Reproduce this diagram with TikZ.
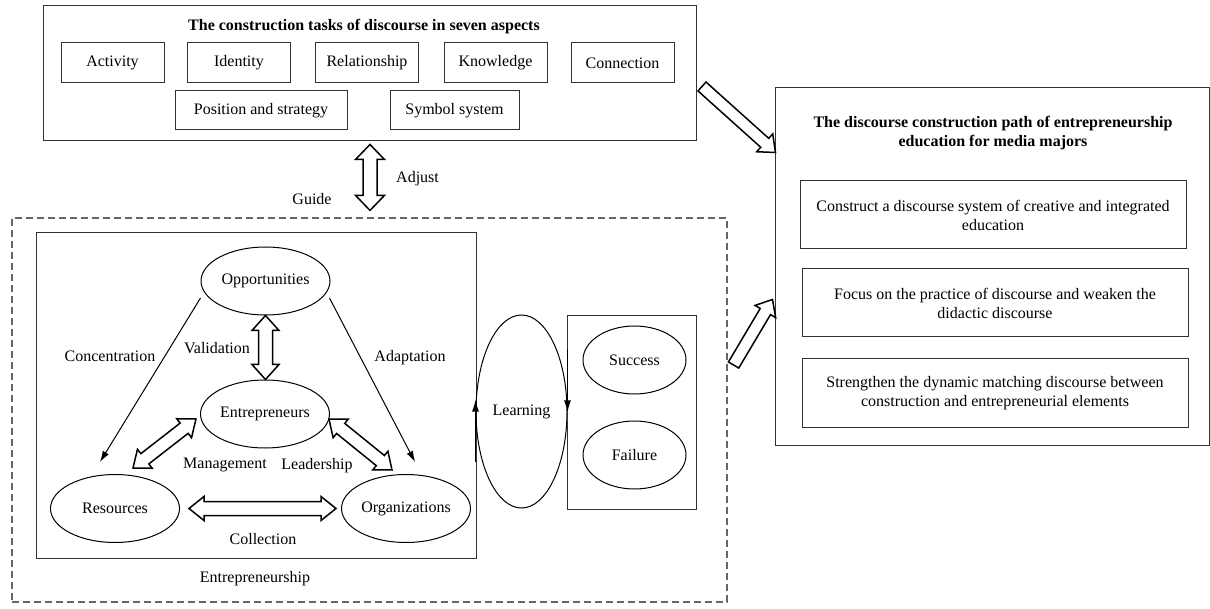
\documentclass[tikz,border=0pt]{standalone}
\usepackage{fontspec}
\setmainfont{Liberation Serif}
\usetikzlibrary{shapes.geometric,calc,arrows.meta}

\newcommand{\fatdouble}[5]{%
  \path ($(#1)!#5!(#2)$) coordinate (fa) ($(#2)!#5!(#1)$) coordinate (fb);
  \draw[fat] (#1) -- ($(fa)!#4!90:(#2)$) -- ($(fa)!#3!90:(#2)$) -- ($(fb)!#3!-90:(#1)$) -- ($(fb)!#4!-90:(#1)$) -- (#2) -- ($(fb)!#4!90:(#1)$) -- ($(fb)!#3!90:(#1)$) -- ($(fa)!#3!-90:(#2)$) -- ($(fa)!#4!-90:(#2)$) -- cycle;}
\newcommand{\fatsingle}[5]{%
  \path ($(#2)!#5!(#1)$) coordinate (fb);
  \draw[fat] ($(#1)!#3!90:(#2)$) -- ($(fb)!#3!-90:(#1)$) -- ($(fb)!#4!-90:(#1)$) -- (#2) -- ($(fb)!#4!90:(#1)$) -- ($(fb)!#3!90:(#1)$) -- ($(#1)!#3!-90:(#2)$) -- cycle;}

\tikzset{
  box/.style={draw=black!80, line width=1pt, inner sep=0pt, align=center},
  oval/.style={ellipse, draw=black, line width=1pt, inner sep=0pt, minimum width=129pt, minimum height=68pt},
  lbl/.style={inner sep=0pt},
  dashbox/.style={draw=black!60, line width=1.2pt, dash pattern=on 7pt off 4pt, inner sep=0pt},
  fat/.style={draw=black, line width=1.5pt, fill=white, line join=miter},
  thinarrow/.style={line width=1pt, -{Latex[length=11pt,width=7pt]}},
  cycarrow/.style={line width=1.5pt, -{Latex[length=12pt,width=7pt]}},
}

\begin{document}
\begin{tikzpicture}[x=1pt,y=-1pt,font=\fontsize{16}{19}\selectfont]
\useasboundingbox (0,0) rectangle (1210,609);

% top box
\node[box, minimum width=653pt, minimum height=134.5pt] (topbox) at (369.5,73.25) {};
\node[lbl, font=\fontsize{16}{19}\selectfont\bfseries] (ttitle) at (364,27) {The construction tasks of discourse in seven aspects};
\node[box, minimum width=103pt, minimum height=40pt] (act) at (112.5,63) {Activity};
\node[box, minimum width=103pt, minimum height=40pt] (ide) at (239,63) {Identity};
\node[box, minimum width=103pt, minimum height=40pt] (rel) at (367,63) {Relationship};
\node[box, minimum width=103pt, minimum height=40pt] (kno) at (495.5,63) {Knowledge};
\node[box, minimum width=103pt, minimum height=40pt] (con) at (622.5,63) {Connection};
\node[box, minimum width=172pt, minimum height=39pt] (pos) at (261,110.5) {Position and strategy};
\node[box, minimum width=129pt, minimum height=39pt] (sym) at (454.5,110.5) {Symbol system};

% dashed box and inner box
\node[dashbox, minimum width=715pt, minimum height=384pt] (dash) at (369.5,410) {};
\node[box, minimum width=440pt, minimum height=325pt] (inner) at (256,395.5) {};
\node[lbl] (entship) at (255,579) {Entrepreneurship};

% ellipses
\node[oval] (opp) at (265.5,281) {Opportunities};
\node[oval] (ent) at (265,414) {Entrepreneurs};
\node[oval] (res) at (115,508.5) {Resources};
\node[oval] (org) at (406,508.5) {Organizations};
\node[oval, minimum width=91pt, minimum height=193pt] (learn) at (521.5,411.5) {Learning};
\node[box, minimum width=129pt, minimum height=193pt] (sfbox) at (631.5,412.5) {};
\node[oval, minimum width=103pt] (succ) at (634.5,360) {Success};
\node[oval, minimum width=103pt] (fail) at (634.5,455) {Failure};

% right box
\node[box, minimum width=434pt, minimum height=357pt] (rbox) at (992,266.5) {};
\node[lbl, align=center, font=\fontsize{16}{19.5}\selectfont\bfseries] (rtitle) at (993,133) {The discourse construction path of entrepreneurship\\education for media majors};
\node[box, minimum width=386pt, minimum height=68pt] (b1) at (993,215) {Construct a discourse system of creative and integrated\\education};
\node[box, minimum width=386pt, minimum height=68pt] (b2) at (995,303) {Focus on the practice of discourse and weaken the\\didactic discourse};
\node[box, minimum width=386pt, minimum height=68pt] (b3) at (995,393) {Strengthen the dynamic matching discourse between\\construction and entrepreneurial elements};

% Adjust / Guide
\coordinate (adjA) at ($(topbox.south)+(0.5,3.5)$);
\coordinate (adjB) at ($(dash.north)+(0.5,-7)$);
\fatdouble{adjA}{adjB}{7pt}{14.5pt}{15pt}
\node[lbl, anchor=west] (adjust) at (396,179) {Adjust};
\node[lbl] (guide) at (312,199) {Guide};

% inner connectors
\coordinate (vA) at (opp.south);
\coordinate (vB) at (opp.south |- ent.north);
\fatdouble{vA}{vB}{7pt}{13.5pt}{15pt}
\node[lbl] (valid) at (217,348) {Validation};

\coordinate (mA) at ($(ent.west)+(-4,5)$);
\coordinate (mB) at ($(res.north)+(18,-6)$);
\fatdouble{mA}{mB}{6.5pt}{12pt}{15pt}
\node[lbl] (manag) at (225,465) {Management};

\coordinate (lA) at ($(ent.east)+(-1,5)$);
\coordinate (lB) at ($(org.north)+(-14,-4)$);
\fatdouble{lA}{lB}{6.5pt}{12pt}{15pt}
\node[lbl] (lead) at (317,466) {Leadership};

\coordinate (cA) at ($(res.east)+(9,0)$);
\coordinate (cB) at ($(org.west)+(-5,0)$);
\fatdouble{cA}{cB}{7pt}{12pt}{15pt}
\node[lbl] (coll) at (263,539) {Collection};

\draw[thinarrow] ($(opp.west)+(0,17)$) -- ($(res.north)+(-15,-12)$);
\draw[thinarrow] ($(opp.east)+(-1,17)$) -- ($(org.north)+(9,-12)$);
\node[lbl] (conc) at (110,356) {Concentration};
\node[lbl] (adap) at (410,358) {Adaptation};

% learning cycle
\draw[cycarrow] ($(learn.west)+(0,50)$) -- ($(learn.west)+(0,-12)$);
\draw[cycarrow] ($(learn.east)+(0,-62)$) -- ($(learn.east)+(0,1)$);

% big hollow arrows
\coordinate (t1) at ($(topbox.north east)+(5.5,81)$);
\coordinate (t2) at ($(rbox.north west)+(1,65)$);
\fatsingle{t1}{t2}{6pt}{12pt}{14.5pt}
\coordinate (u1) at ($(dash.east)+(6,-45)$);
\coordinate (u2) at ($(rbox.west)+(-2,33)$);
\fatsingle{u1}{u2}{6pt}{12pt}{14pt}
\end{tikzpicture}
\end{document}
